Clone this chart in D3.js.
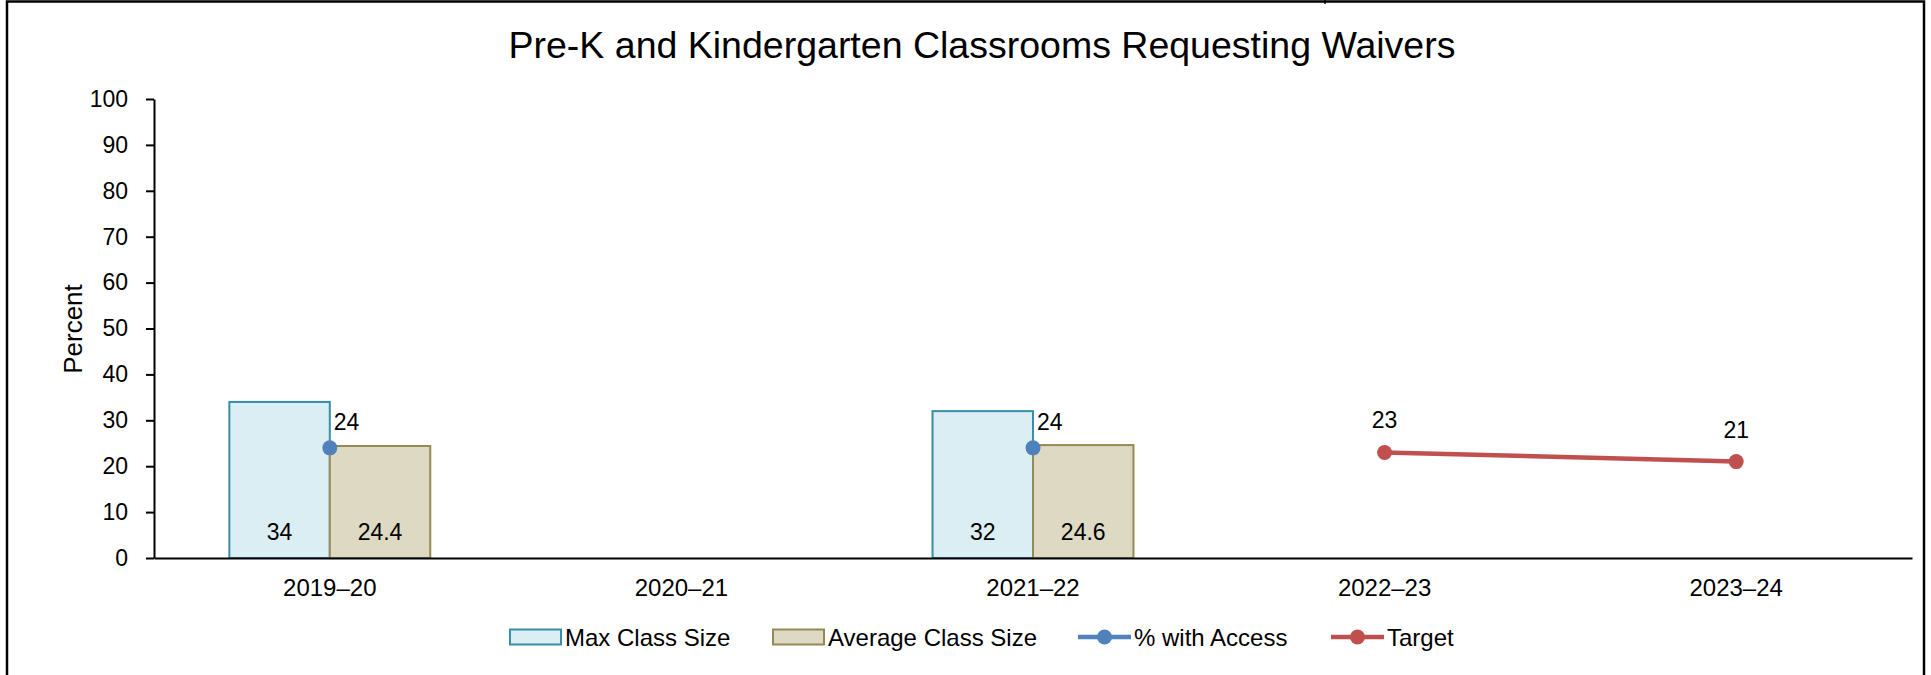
<!DOCTYPE html>
<html>
<head>
<meta charset="utf-8">
<script src="https://cdn.jsdelivr.net/npm/d3@7"></script>
<style>
  html, body { margin: 0; padding: 0; background: #fff; }
  svg { display: block; font-family: "Liberation Sans", Arial, sans-serif; }
</style>
</head>
<body>
<svg id="chart" width="1931" height="675"></svg>
<script>
// ---- data ----
const categories = ["2019–20", "2020–21", "2021–22", "2022–23", "2023–24"];
const maxClassSize = [34, null, 32, null, null];
const avgClassSize = [24.4, null, 24.6, null, null];
const pctAccess = [24, null, 24, null, null];
const target = [null, null, null, 23, 21];
const yTicks = [0, 10, 20, 30, 40, 50, 60, 70, 80, 90, 100];
const seriesNames = ["Max Class Size", "Average Class Size", "% with Access", "Target"];
const titleText = "Pre-K and Kindergarten Classrooms Requesting Waivers";
const yAxisTitle = "Percent";

// ---- styles ----
const C = {
  maxFill: "#DBEEF3", maxStroke: "#3A8FA8",
  avgFill: "#DDD9C3", avgStroke: "#948A54",
  access: "#4F81BD", target: "#C0504D"
};

const svg = d3.select("#chart");

// frame
svg.append("rect").attr("x", 7).attr("y", 1.5).attr("width", 1917).attr("height", 720)
  .attr("fill", "none").attr("stroke", "#000").attr("stroke-width", 2.5);
svg.append("line").attr("x1", 1325).attr("x2", 1325).attr("y1", 0).attr("y2", 4)
  .attr("stroke", "#000").attr("stroke-width", 1.5);

const x = d3.scaleBand().domain(categories).range([154, 1912]);
const xi = d3.scaleBand().domain(["max", "avg"]).range([0, x.bandwidth()])
  .paddingInner(0).paddingOuter(0.75);
const y = d3.scaleLinear().domain([0, 100]).range([558, 99]);

// title
svg.append("text").attr("x", 982).attr("y", 58).attr("text-anchor", "middle")
  .attr("font-size", 37.5).attr("fill", "#000").text(titleText);

// y axis title
svg.append("text").attr("transform", "translate(82,329) rotate(-90)")
  .attr("text-anchor", "middle").attr("font-size", 26).attr("fill", "#000").text(yAxisTitle);

// bars
const barData = [];
categories.forEach((c, i) => {
  if (maxClassSize[i] != null) barData.push({ c, k: "max", v: maxClassSize[i] });
  if (avgClassSize[i] != null) barData.push({ c, k: "avg", v: avgClassSize[i] });
});
const bars = svg.append("g");
bars.selectAll("rect").data(barData).join("rect")
  .attr("x", d => x(d.c) + xi(d.k))
  .attr("y", d => y(d.v))
  .attr("width", xi.bandwidth())
  .attr("height", d => y(0) - y(d.v))
  .attr("fill", d => d.k === "max" ? C.maxFill : C.avgFill)
  .attr("stroke", d => d.k === "max" ? C.maxStroke : C.avgStroke)
  .attr("stroke-width", 2);
bars.selectAll("text").data(barData).join("text")
  .attr("x", d => x(d.c) + xi(d.k) + xi.bandwidth() / 2)
  .attr("y", y(0) - 18)
  .attr("text-anchor", "middle").attr("font-size", 23).attr("fill", "#000")
  .text(d => d.v);

// axes
const yAxis = svg.append("g").attr("transform", "translate(154,0)")
  .call(d3.axisLeft(y).tickValues(yTicks).tickSize(8).tickSizeOuter(0).tickPadding(18));
yAxis.select(".domain").attr("stroke", "#000").attr("stroke-width", 2);
yAxis.selectAll(".tick line").attr("stroke", "#000").attr("stroke-width", 2);
yAxis.selectAll(".tick text").attr("font-size", 23).attr("fill", "#000")
  .attr("font-family", "Liberation Sans, Arial, sans-serif");

const xAxis = svg.append("g").attr("transform", "translate(0,558)")
  .call(d3.axisBottom(x).tickSize(0).tickSizeOuter(0).tickPadding(21));
xAxis.select(".domain").attr("stroke", "#000").attr("stroke-width", 2);
xAxis.selectAll(".tick text").attr("font-size", 24).attr("fill", "#000")
  .attr("font-family", "Liberation Sans, Arial, sans-serif");

// % with Access points
const accessData = categories.map((c, i) => ({ c, v: pctAccess[i] })).filter(d => d.v != null);
const acc = svg.append("g");
acc.selectAll("circle").data(accessData).join("circle")
  .attr("cx", d => x(d.c) + x.bandwidth() / 2).attr("cy", d => y(d.v))
  .attr("r", 7.5).attr("fill", C.access);
acc.selectAll("text").data(accessData).join("text")
  .attr("x", d => x(d.c) + x.bandwidth() / 2 + 4).attr("y", d => y(d.v) - 18)
  .attr("font-size", 23).attr("fill", "#000").text(d => d.v);

// Target line
const targetData = categories.map((c, i) => ({ c, v: target[i] })).filter(d => d.v != null);
const tg = svg.append("g");
tg.append("path").datum(targetData)
  .attr("d", d3.line().x(d => x(d.c) + x.bandwidth() / 2).y(d => y(d.v)))
  .attr("fill", "none").attr("stroke", C.target).attr("stroke-width", 4.5);
tg.selectAll("circle").data(targetData).join("circle")
  .attr("cx", d => x(d.c) + x.bandwidth() / 2).attr("cy", d => y(d.v))
  .attr("r", 7.5).attr("fill", C.target);
tg.selectAll("text").data(targetData).join("text")
  .attr("x", d => x(d.c) + x.bandwidth() / 2).attr("y", d => y(d.v) - 24)
  .attr("text-anchor", "middle").attr("font-size", 23).attr("fill", "#000").text(d => d.v);

// legend
const legendX = [509, 772, 1078, 1331];
const ly = 637;
const lg = svg.append("g");
seriesNames.forEach((name, i) => {
  const g = lg.append("g").attr("transform", `translate(${legendX[i]},${ly})`);
  if (i < 2) {
    g.append("rect").attr("x", 1).attr("y", -7.5).attr("width", 51).attr("height", 15)
      .attr("fill", i === 0 ? C.maxFill : C.avgFill)
      .attr("stroke", i === 0 ? C.maxStroke : C.avgStroke).attr("stroke-width", 2);
  } else {
    const col = i === 2 ? C.access : C.target;
    g.append("line").attr("x1", 0).attr("x2", 53).attr("y1", 0).attr("y2", 0)
      .attr("stroke", col).attr("stroke-width", 4.5);
    g.append("circle").attr("cx", 26.5).attr("cy", 0).attr("r", 7.5).attr("fill", col);
  }
  g.append("text").attr("x", 56).attr("y", 8.5).attr("font-size", 24).attr("fill", "#000").text(name);
});
</script>
</body>
</html>
